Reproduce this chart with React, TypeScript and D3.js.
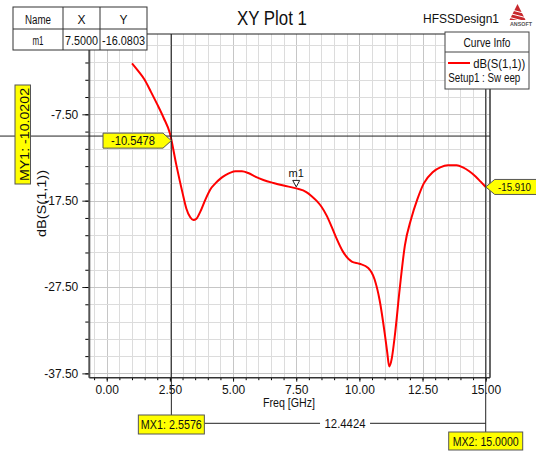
import React, { useEffect, useRef } from "react";
import * as d3 from "d3";

// S11 sweep
const freqGHz = [
  1.0, 1.25, 1.5, 1.75, 2.0, 2.25, 2.5, 2.75, 3.0, 3.15, 3.3, 3.43, 3.55, 3.7, 3.9,
  4.1, 4.3, 4.5, 4.7, 4.9, 5.1, 5.35, 5.6, 5.9, 6.2, 6.6, 7.0, 7.5, 7.9, 8.1, 8.3,
  8.5, 8.7, 8.9, 9.1, 9.35, 9.7, 10.0, 10.35, 10.6, 10.8, 11.0, 11.1, 11.18, 11.28,
  11.4, 11.6, 11.8, 12.05, 12.3, 12.55, 12.9, 13.2, 13.5, 13.85, 14.1, 14.35, 14.6,
  14.8, 15.0,
];
const s11dB = [
  -1.6, -2.5, -3.5, -4.9, -6.35, -7.9, -9.7, -13.3, -16.6, -18.4, -19.4, -19.75,
  -19.6, -18.8, -17.4, -16.2, -15.5, -14.95, -14.55, -14.25, -14.1, -14.1, -14.3,
  -14.75, -15.1, -15.45, -15.75, -16.08, -16.5, -16.95, -17.5, -18.2, -19.2, -20.5,
  -21.9, -23.4, -24.55, -24.8, -25.3, -26.6, -29.0, -32.8, -35.0, -36.7, -35.8,
  -33.2, -27.6, -22.7, -19.6, -17.3, -15.5, -14.2, -13.65, -13.4, -13.4, -13.65,
  -14.1, -14.7, -15.3, -15.91,
];

const xTickValues = [0, 2.5, 5, 7.5, 10, 12.5, 15];
const yTickValues = [-37.5, -27.5, -17.5, -7.5];

// markers
const m1 = { name: "m1", x: 7.5, y: -16.0803 };
const mx1 = 2.5576;
const mx1Value = -10.5478;
const mx2 = 15.0;
const mx2Value = -15.9101;
const my1 = -10.0202;

const FONT = "'Liberation Sans', Arial, sans-serif";

export default function App() {
  const ref = useRef<SVGSVGElement>(null);

  useEffect(() => {
    document.body.style.margin = "0";
    draw();
  }, []);

  function draw() {
    const width = 536;
    const height = 451;
    const plot = { left: 89.3, right: 490, top: 34, bottom: 377.7 };

    const svg = d3.select(ref.current);
    svg.selectAll("*").remove();
    svg.attr("width", width).attr("height", height).style("font-family", FONT);

    svg.append("rect").attr("width", width).attr("height", height).attr("fill", "white");

    const x = d3.scaleLinear().domain([-0.69, 15.17]).range([plot.left, plot.right]);
    const y = d3.scaleLinear().domain([-38.0, 1.8]).range([plot.bottom, plot.top]);

    const text = (
      g: any,
      tx: number,
      ty: number,
      str: string,
      size: number,
      anchor = "middle",
      len?: number
    ) => {
      const t = g
        .append("text")
        .attr("x", tx)
        .attr("y", ty)
        .attr("font-size", size)
        .attr("text-anchor", anchor)
        .attr("fill", "#111")
        .text(str);
      if (len) t.attr("textLength", len).attr("lengthAdjust", "spacingAndGlyphs");
      return t;
    };

    // grid
    const grid = svg.append("g");
    const xMinor = d3.range(-0.5, 15.01, 0.5);
    const yMinor = d3.range(-37.5, 1.8, 2);
    grid
      .append("g")
      .selectAll("line")
      .data(xMinor)
      .join("line")
      .attr("x1", d => Math.round(x(d)) + 0.5)
      .attr("x2", d => Math.round(x(d)) + 0.5)
      .attr("y1", plot.top)
      .attr("y2", plot.bottom)
      .attr("stroke", d => (xTickValues.includes(d) ? "#c6c6c6" : "#dcdcdc"))
      .attr("stroke-width", 1);
    grid
      .append("g")
      .selectAll("line")
      .data(yMinor)
      .join("line")
      .attr("x1", plot.left)
      .attr("x2", plot.right)
      .attr("y1", d => Math.round(y(d)) + 0.5)
      .attr("y2", d => Math.round(y(d)) + 0.5)
      .attr("stroke", d => (yTickValues.includes(d) ? "#c6c6c6" : "#dcdcdc"))
      .attr("stroke-width", 1);

    const fmt = (d: any) => (+d).toFixed(2);

    // axes
    const xAxis = svg
      .append("g")
      .attr("transform", `translate(0,${plot.bottom})`)
      .call(
        d3
          .axisBottom(x)
          .tickValues(xTickValues)
          .tickFormat(fmt)
          .tickSize(4)
          .tickPadding(4)
          .tickSizeOuter(0)
      );
    svg
      .append("g")
      .attr("transform", `translate(0,${plot.bottom})`)
      .call(d3.axisBottom(x).tickValues(xMinor).tickFormat(() => "").tickSize(2.5).tickSizeOuter(0))
      .call(g => g.select(".domain").remove());

    const yAxis = svg
      .append("g")
      .attr("transform", `translate(${plot.left},0)`)
      .call(
        d3
          .axisLeft(y)
          .tickValues(yTickValues)
          .tickFormat(fmt)
          .tickSize(7)
          .tickPadding(4)
          .tickSizeOuter(0)
      );
    svg
      .append("g")
      .attr("transform", `translate(${plot.left},0)`)
      .call(d3.axisLeft(y).tickValues(yMinor).tickFormat(() => "").tickSize(4).tickSizeOuter(0))
      .call(g => g.select(".domain").remove());

    [xAxis, yAxis].forEach(g => {
      g.select(".domain").remove();
      g.attr("font-family", FONT).attr("font-size", 12);
      g.selectAll("text").attr("fill", "#111");
      g.selectAll("line").attr("stroke", "#222");
    });

    // frame
    svg
      .append("line")
      .attr("x1", plot.left)
      .attr("x2", plot.left)
      .attr("y1", plot.top)
      .attr("y2", plot.bottom)
      .attr("stroke", "#555")
      .attr("stroke-width", 2);
    svg
      .append("line")
      .attr("x1", plot.left)
      .attr("x2", plot.right)
      .attr("y1", plot.bottom)
      .attr("y2", plot.bottom)
      .attr("stroke", "#333")
      .attr("stroke-width", 1.5);
    svg
      .append("line")
      .attr("x1", plot.left)
      .attr("x2", plot.right)
      .attr("y1", plot.top)
      .attr("y2", plot.top)
      .attr("stroke", "#222")
      .attr("stroke-width", 1);
    svg
      .append("line")
      .attr("x1", plot.right)
      .attr("x2", plot.right)
      .attr("y1", plot.top)
      .attr("y2", plot.bottom)
      .attr("stroke", "#333")
      .attr("stroke-width", 1.5);

    // axis titles
    text(svg, 289, 407, "Freq [GHz]", 12, "middle", 52);
    text(svg, 0, 0, "dB(S(1,1))", 13, "middle", 67).attr(
      "transform",
      "translate(46,203.5) rotate(-90)"
    );

    // curve
    const idx = d3.range(freqGHz.length);
    svg
      .append("path")
      .attr("fill", "none")
      .attr("stroke", "#ff0000")
      .attr("stroke-width", 2)
      .attr("stroke-linejoin", "round")
      .attr(
        "d",
        d3
          .line<number>()
          .x(i => x(freqGHz[i]))
          .y(i => y(s11dB[i]))
          .curve(d3.curveMonotoneX)(idx)
      );

    // marker m1
    const mx = x(m1.x);
    const my = y(m1.y);
    svg
      .append("path")
      .attr("d", `M${mx - 3.5},${my - 8} L${mx + 3.5},${my - 8} L${mx},${my - 1.5} Z`)
      .attr("fill", "white")
      .attr("stroke", "#222")
      .attr("stroke-width", 1);
    text(svg, mx, my - 11, m1.name, 11, "middle");

    // MY1 horizontal line
    const lines = svg.append("g").attr("stroke", "#222").attr("stroke-width", 1);
    lines
      .append("line")
      .attr("x1", 0)
      .attr("x2", plot.right)
      .attr("y1", y(my1))
      .attr("y2", y(my1));
    // MX1 / MX2 vertical lines
    lines
      .append("line")
      .attr("x1", x(mx1))
      .attr("x2", x(mx1))
      .attr("y1", plot.top)
      .attr("y2", 415);
    lines
      .append("line")
      .attr("x1", x(mx2))
      .attr("x2", x(mx2))
      .attr("y1", plot.top)
      .attr("y2", 432);

    const yellow = "#ffff00";

    // MY1 label
    svg
      .append("rect")
      .attr("x", 15)
      .attr("y", 85)
      .attr("width", 15.5)
      .attr("height", 99)
      .attr("fill", yellow)
      .attr("stroke", "#555");
    text(svg, 0, 0, `MY1: ${my1.toFixed(4)}`, 13, "middle", 93).attr(
      "transform",
      `translate(29,134.5) rotate(-90)`
    );

    // value flag at MX1
    const t1x = x(mx1);
    const t1y = y(mx1Value);
    svg
      .append("path")
      .attr(
        "d",
        `M103,${t1y - 7.5} L163,${t1y - 7.5} L${t1x},${t1y} L163,${t1y + 7.5} L103,${t1y + 7.5} Z`
      )
      .attr("fill", yellow)
      .attr("stroke", "#555");
    text(svg, 133, t1y + 4.5, mx1Value.toFixed(4), 12, "middle", 44);

    // value flag at MX2 (runs to the right edge, as in the original)
    const t2x = x(mx2);
    const t2y = y(mx2Value);
    svg
      .append("path")
      .attr(
        "d",
        `M${t2x},${t2y} L${t2x + 9},${t2y - 7.5} L540,${t2y - 7.5} L540,${t2y + 7.5} L${t2x + 9},${t2y + 7.5} Z`
      )
      .attr("fill", yellow)
      .attr("stroke", "#555");
    text(svg, 498, t2y + 4.5, mx2Value.toFixed(3), 11, "start", 33);

    // MX1 / MX2 labels and delta
    const b1 = { x: x(mx1) - 33, y: 415, w: 66, h: 19 };
    const b2 = { x: x(mx2) - 37, y: 432, w: 74, h: 18 };
    lines
      .append("line")
      .attr("x1", b1.x + b1.w)
      .attr("x2", x(mx2))
      .attr("y1", 423.3)
      .attr("y2", 423.3);
    const dcx = (b1.x + b1.w + x(mx2)) / 2;
    svg
      .append("rect")
      .attr("x", dcx - 25)
      .attr("y", 416)
      .attr("width", 50)
      .attr("height", 15)
      .attr("fill", "white");
    text(svg, dcx, 428, (mx2 - mx1).toFixed(4), 12, "middle", 41);

    svg
      .append("rect")
      .attr("x", b1.x)
      .attr("y", b1.y)
      .attr("width", b1.w)
      .attr("height", b1.h)
      .attr("fill", yellow)
      .attr("stroke", "#555");
    text(svg, x(mx1), b1.y + 14, `MX1: ${mx1.toFixed(4)}`, 12, "middle", 61);
    svg
      .append("rect")
      .attr("x", b2.x)
      .attr("y", b2.y)
      .attr("width", b2.w)
      .attr("height", b2.h)
      .attr("fill", yellow)
      .attr("stroke", "#555");
    text(svg, x(mx2), b2.y + 13.5, `MX2: ${mx2.toFixed(4)}`, 12, "middle", 66);

    // marker table
    const tbl = svg.append("g");
    tbl
      .append("rect")
      .attr("x", 13)
      .attr("y", 7)
      .attr("width", 134)
      .attr("height", 43)
      .attr("fill", "white")
      .attr("stroke", "#333");
    [63, 100].forEach(cx =>
      tbl.append("line").attr("x1", cx).attr("x2", cx).attr("y1", 7).attr("y2", 50).attr("stroke", "#333")
    );
    tbl.append("line").attr("x1", 13).attr("x2", 147).attr("y1", 29).attr("y2", 29).attr("stroke", "#333");
    text(tbl, 38, 23.5, "Name", 12, "middle", 26);
    text(tbl, 81.5, 23.5, "X", 12, "middle");
    text(tbl, 123.5, 23.5, "Y", 12, "middle");
    text(tbl, 38, 45, m1.name, 12, "middle", 11);
    text(tbl, 81.5, 45, m1.x.toFixed(4), 12, "middle", 33);
    text(tbl, 123.5, 45, m1.y.toFixed(4), 12, "middle", 43);

    // title + design name
    text(svg, 272, 25, "XY Plot 1", 20, "middle", 70);
    text(svg, 423, 23, "HFSSDesign1", 13, "start", 76);

    // ansoft logo
    const logo = svg.append("g");
    logo
      .append("path")
      .attr("d", "M517.5,4 L525.5,20 L509.5,20 Z")
      .attr("fill", "#c8282d");
    [9, 13, 17].forEach(yy =>
      logo
        .append("line")
        .attr("x1", 508)
        .attr("x2", 527)
        .attr("y1", yy)
        .attr("y2", yy + 5)
        .attr("stroke", "white")
        .attr("stroke-width", 1)
    );
    text(logo, 521, 25.5, "ANSOFT", 6, "middle", 22).attr("font-weight", "bold").attr("fill", "#555");

    // curve info
    const info = svg.append("g");
    info
      .append("rect")
      .attr("x", 445)
      .attr("y", 32)
      .attr("width", 84)
      .attr("height", 57)
      .attr("fill", "white")
      .attr("stroke", "#444");
    info.append("line").attr("x1", 445).attr("x2", 529).attr("y1", 52).attr("y2", 52).attr("stroke", "#444");
    text(info, 487, 47, "Curve Info", 12, "middle", 47);
    info
      .append("line")
      .attr("x1", 448)
      .attr("x2", 470)
      .attr("y1", 63)
      .attr("y2", 63)
      .attr("stroke", "#ff0000")
      .attr("stroke-width", 2);
    text(info, 473.3, 68, "dB(S(1,1))", 12, "start", 52);
    text(info, 448.3, 81.5, "Setup1 : Sw eep", 12, "start", 72);
  }

  return (
    <svg
      ref={ref}
      width={536}
      height={451}
      style={{ position: "absolute", left: 0, top: 0, display: "block" }}
    />
  );
}
